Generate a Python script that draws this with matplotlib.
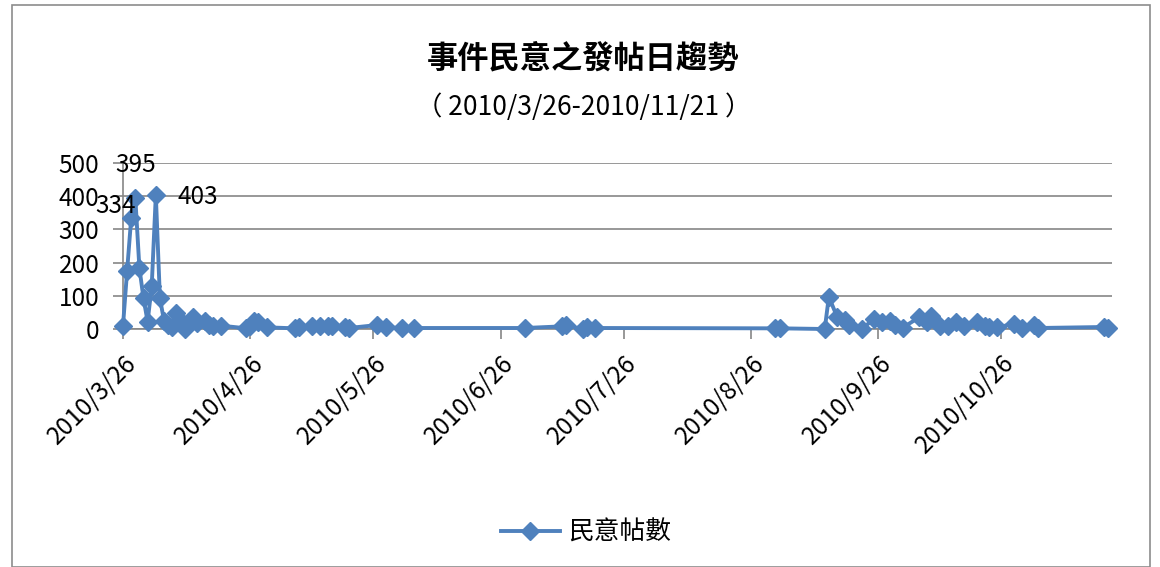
import matplotlib
matplotlib.use("Agg")
import matplotlib.pyplot as plt
import matplotlib.dates as mdates
from matplotlib.patches import Rectangle
import pandas as pd

plt.rcParams['font.family'] = ['Noto Sans CJK TC', 'DejaVu Sans']

# daily post counts
dates = [
    '2010-03-26', '2010-03-27', '2010-03-28', '2010-03-29', '2010-03-30', '2010-03-31',
    '2010-04-01', '2010-04-02', '2010-04-03', '2010-04-04', '2010-04-05', '2010-04-06',
    '2010-04-07', '2010-04-08', '2010-04-09', '2010-04-10', '2010-04-12', '2010-04-13',
    '2010-04-15', '2010-04-16', '2010-04-17', '2010-04-19', '2010-04-25', '2010-04-26',
    '2010-04-27', '2010-04-28', '2010-04-30', '2010-05-07', '2010-05-08', '2010-05-11',
    '2010-05-13', '2010-05-15', '2010-05-16', '2010-05-19', '2010-05-20', '2010-05-27',
    '2010-05-29', '2010-06-02', '2010-06-05', '2010-07-02', '2010-07-11', '2010-07-12',
    '2010-07-16', '2010-07-17', '2010-07-19', '2010-09-01', '2010-09-02', '2010-09-13',
    '2010-09-14', '2010-09-16', '2010-09-18', '2010-09-19', '2010-09-22', '2010-09-25',
    '2010-09-27', '2010-09-29', '2010-09-30', '2010-10-02', '2010-10-06', '2010-10-08',
    '2010-10-09', '2010-10-11', '2010-10-13', '2010-10-15', '2010-10-17', '2010-10-20',
    '2010-10-22', '2010-10-23', '2010-10-25', '2010-10-29', '2010-10-31', '2010-11-03',
    '2010-11-04', '2010-11-20', '2010-11-21',
]
posts = [
    10, 175, 334, 395, 183, 92,
    22, 130, 403, 92, 25, 12,
    5, 47, 27, 0, 35, 18,
    25, 12, 8, 10, 2, 10,
    25, 22, 5, 2, 5, 10,
    8, 10, 8, 5, 3, 12,
    5, 3, 3, 3, 8, 12,
    0, 5, 3, 2, 2, 0,
    97, 37, 27, 12, 0, 30,
    20, 25, 12, 4, 35, 20,
    40, 10, 8, 20, 10, 20,
    8, 5, 5, 15, 3, 12,
    3, 6, 3,
]
labelled = ['2010-03-28', '2010-03-29', '2010-04-03']
tick_dates = ['2010-03-26', '2010-04-26', '2010-05-26', '2010-06-26',
              '2010-07-26', '2010-08-26', '2010-09-26', '2010-10-26']

x = pd.to_datetime(dates)
blue = '#4F81BD'
grid = '#868686'

fig = plt.figure(figsize=(11.6, 5.67), dpi=100)
fig.patches.append(Rectangle((12 / 1160, 0), 1138 / 1160, 562 / 567,
                             transform=fig.transFigure, fill=False,
                             edgecolor='#8c8c8c', linewidth=1.2))
ax = fig.add_axes([123 / 1160, 1 - 329 / 567, (1112 - 123) / 1160, (329 - 163) / 567])

ax.plot(x, posts, color=blue, linewidth=2.8, marker='D', markersize=9.5,
        markerfacecolor=blue, markeredgecolor=blue, label='民意帖數', zorder=3,
        clip_on=False)

# data labels on the peaks
offsets = {'2010-03-28': (-11, 9), '2010-03-29': (0, 24), '2010-04-03': (30, -1)}
for d in labelled:
    i = dates.index(d)
    ax.annotate(str(posts[i]), (x[i], posts[i]), xytext=offsets[d],
                textcoords='offset points', ha='center', va='center',
                fontsize=17.5, color='black', zorder=4)

ax.set_ylim(0, 500)
ax.set_yticks(range(0, 501, 100))
ax.set_xlim(pd.Timestamp('2010-03-26'), pd.Timestamp('2010-11-22'))
ax.set_xticks(pd.to_datetime(tick_dates))
ax.xaxis.set_major_formatter(mdates.DateFormatter('%Y/%-m/%-d'))
ax.grid(axis='y', color=grid, linewidth=1.2)
ax.set_axisbelow(True)

for s in ['top', 'right']:
    ax.spines[s].set_visible(False)
for s in ['left', 'bottom']:
    ax.spines[s].set_color(grid)
    ax.spines[s].set_linewidth(1.2)
ax.tick_params(axis='both', direction='out', length=7, width=1.2, color=grid,
               labelsize=17.5)
ax.tick_params(axis='y', pad=10)
ax.tick_params(axis='x', pad=8)
for lab in ax.get_xticklabels():
    lab.set_rotation(45)
    lab.set_ha('right')
    lab.set_rotation_mode('anchor')

fig.text(0.503, 1 - 58 / 567, '事件民意之發帖日趨勢', ha='center', va='center',
         fontsize=22.5, fontweight='bold')
fig.text(0.503, 1 - 107 / 567, '（ 2010/3/26-2010/11/21 ）', ha='center', va='center',
         fontsize=19)

fig.legend(loc='center', bbox_to_anchor=(0.505, 1 - 533 / 567), frameon=False,
           fontsize=18.5, handlelength=2.3, handletextpad=0.3)

fig.savefig('out.png', dpi=100)
